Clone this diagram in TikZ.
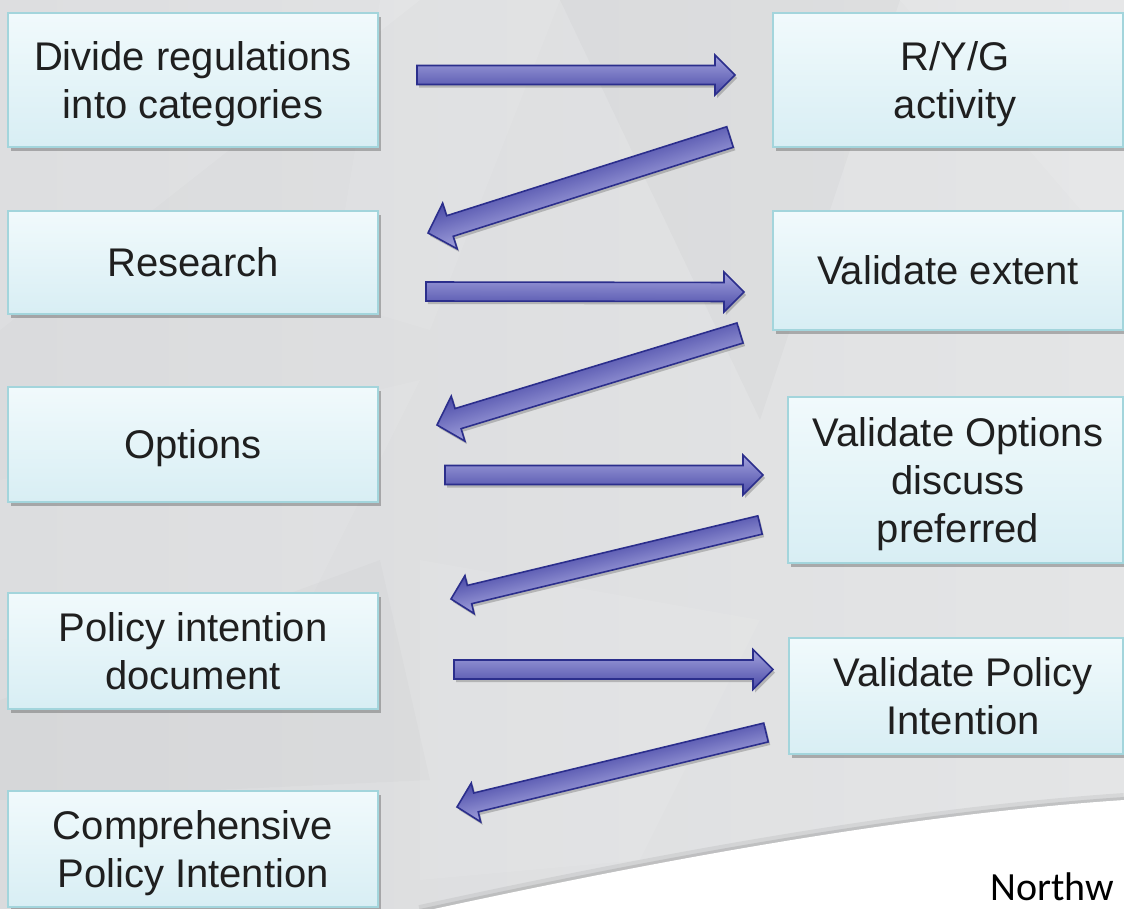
\documentclass[tikz,border=0pt]{standalone}
\usepackage{fontspec}
\setmainfont{Liberation Sans}
\newfontfamily\nwfont{Carlito}
\usetikzlibrary{calc,shadows}
\definecolor{bgbase}{HTML}{E4E5E6}
\definecolor{bgdark}{HTML}{DADBDD}
\definecolor{boxtop}{HTML}{F1FAFC}
\definecolor{boxbot}{HTML}{D8EEF4}
\definecolor{boxline}{HTML}{A3D5DC}
\definecolor{arrtop}{HTML}{A2A2DC}
\definecolor{arrbot}{HTML}{4A4AA8}
\definecolor{arrline}{HTML}{2B2E8C}
\definecolor{txtcol}{HTML}{1F1F1F}
% one text line whose box is exactly cap height tall, no depth
\newcommand\tl[2][0pt]{\hspace*{#1}\raisebox{0pt}[28.6pt][0pt]{#2}}
% a block arrow from tail coordinate #1 to tip coordinate #2
% #3 shaft half width, #4 head half width, #5 head length (all in px)
\newcommand\fatarrow[5]{%
  \path let \p1=(#1), \p2=(#2) in
    \pgfextra{%
      \pgfmathsetmacro\FAangT{atan2(\y2-\y1,\x2-\x1)}%
      \pgfmathsetmacro\FAlenT{veclen(\x2-\x1,\y2-\y1)}%
      \xdef\FAang{\FAangT}\xdef\FAlen{\FAlenT}%
      \xdef\FAx{\x1}\xdef\FAy{\y1}};
  \begin{scope}[transform canvas={shift={(\FAx+2pt,\FAy-3pt)},rotate=\FAang}]
    \fill[black,opacity=.20] (0pt,-#3pt) -- ({\FAlen pt-#5pt},-#3pt) -- ({\FAlen pt-#5pt},-#4pt)
      -- (\FAlen pt,0pt) -- ({\FAlen pt-#5pt},#4pt) -- ({\FAlen pt-#5pt},#3pt) -- (0pt,#3pt) -- cycle;
  \end{scope}
  \begin{scope}[transform canvas={shift={(\FAx,\FAy)},rotate=\FAang}]
    \draw[blockarrow] (0pt,-#3pt) -- ({\FAlen pt-#5pt},-#3pt) -- ({\FAlen pt-#5pt},-#4pt)
      -- (\FAlen pt,0pt) -- ({\FAlen pt-#5pt},#4pt) -- ({\FAlen pt-#5pt},#3pt) -- (0pt,#3pt) -- cycle;
  \end{scope}
}
\begin{document}
\begin{tikzpicture}[x=1pt,y=-1pt,
  flowbox/.style={rectangle, draw=boxline, line width=1.6pt,
    top color=boxtop, bottom color=boxbot, inner sep=0pt,
    align=center, text=txtcol,
    font=\fontsize{40}{48}\selectfont,
    drop shadow={shadow xshift=2.5pt, shadow yshift=-3.5pt, opacity=.35, fill=black!75}},
  blockarrow/.style={draw=arrline, line width=1.6pt, line join=miter,
    top color=arrtop, bottom color=arrbot}]
\useasboundingbox (0,0) rectangle (1124,908);
\clip (0,0) rectangle (1124,908);
% ---------- background ----------
\shade[left color=bgdark, right color=bgbase] (0,0) rectangle (1124,908);
\fill[white,opacity=.10] (0,0) -- (420,0) -- (0,330) -- cycle;
\fill[white,opacity=.08] (380,0) -- (560,0) -- (430,330) -- (330,300) -- cycle;
\fill[black,opacity=.02] (560,0) -- (900,0) -- (760,420) -- cycle;
\fill[white,opacity=.10] (900,0) -- (1124,0) -- (1124,260) -- cycle;
\fill[white,opacity=.07] (0,480) -- (420,380) -- (300,620) -- (0,640) -- cycle;
\fill[black,opacity=.015] (0,700) -- (380,560) -- (430,780) -- (0,800) -- cycle;
\fill[white,opacity=.07] (420,560) -- (760,620) -- (640,860) -- (420,880) -- cycle;
% white sweep at the bottom right, with its shadow
\draw[black,opacity=.06,line width=14pt] (420,912) .. controls (650,862) and (900,815) .. (1124,800);
\draw[black,opacity=.09,line width=6pt] (420,912) .. controls (650,862) and (900,815) .. (1124,800);
\fill[white] (420,912) .. controls (650,862) and (900,815) .. (1124,800) -- (1124,912) -- cycle;
% ---------- boxes ----------
\node[flowbox, minimum width=370pt, minimum height=134pt] (b1) at (193,80)
  {\tl{Divide regulations}\\\tl{into categories}};
\node[flowbox, minimum width=370pt, minimum height=103pt] (b2) at (193,262.5)
  {\tl{Research}};
\node[flowbox, minimum width=370pt, minimum height=115pt] (b3) at (193,444.5)
  {\tl{Options}};
\node[flowbox, minimum width=370pt, minimum height=116pt] (b4) at (193,651)
  {\tl{Policy intention}\\\tl{document}};
\node[flowbox, minimum width=370pt, minimum height=116pt] (b5) at (193,849)
  {\tl{Comprehensive}\\\tl{Policy Intention}};
\node[flowbox, minimum width=350pt, minimum height=134pt] (r1) at (948,80)
  {\tl[14pt]{R/Y/G}\\\tl[14pt]{activity}};
\node[flowbox, minimum width=350pt, minimum height=119pt] (r2) at (948,270.5)
  {\tl{Validate extent}};
\node[flowbox, minimum width=335pt, minimum height=166pt] (r3) at (955.5,480)
  {\tl[5pt]{Validate Options}\\\tl[5pt]{discuss}\\\tl[5pt]{preferred}};
\node[flowbox, minimum width=334pt, minimum height=116pt] (r4) at (956,696)
  {\tl[14pt]{Validate Policy}\\\tl[14pt]{Intention}};
% ---------- arrow end points ----------
\coordinate (a1s) at (417,75);    \coordinate (a1e) at (735,75);
\coordinate (a2s) at (730,137);   \coordinate (a2e) at (428,233);
\coordinate (a3s) at (426,291.5); \coordinate (a3e) at (744,292);
\coordinate (a4s) at (740,333);   \coordinate (a4e) at (437,425);
\coordinate (a5s) at (445,475);   \coordinate (a5e) at (763,475);
\coordinate (a6s) at (760,525);   \coordinate (a6e) at (451,599);
\coordinate (a7s) at (454,669.5); \coordinate (a7e) at (773,669.5);
\coordinate (a8s) at (766,732.5); \coordinate (a8e) at (457,807);
% ---------- arrows ----------
\fatarrow{a1s}{a1e}{9.5}{20}{20}
\fatarrow{a2s}{a2e}{10.8}{24}{23}
\fatarrow{a3s}{a3e}{9.5}{20}{20}
\fatarrow{a4s}{a4e}{10.5}{23.5}{22}
\fatarrow{a5s}{a5e}{9.5}{20}{20}
\fatarrow{a6s}{a6e}{9.4}{19.5}{19}
\fatarrow{a7s}{a7e}{9.5}{20}{20}
\fatarrow{a8s}{a8e}{9.7}{20}{19.5}
% ---------- footer text ----------
\node[anchor=base west, inner sep=0pt, text=black, font=\nwfont\fontsize{40}{48}\selectfont]
  (nw) at (990,900) {Northw};
\end{tikzpicture}
\end{document}
